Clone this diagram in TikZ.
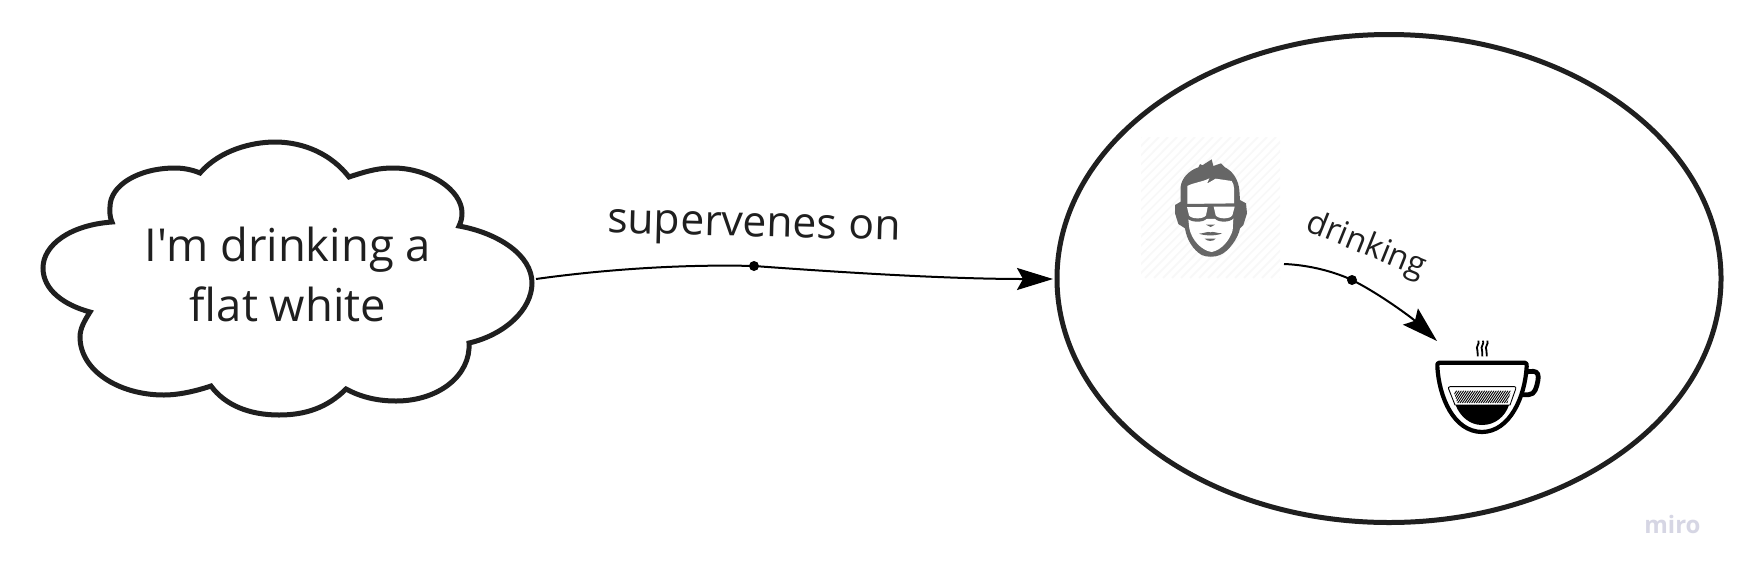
\documentclass[tikz,border=0pt]{standalone}
\usepackage{fontspec}
\setmainfont{Open Sans}
\newfontfamily\plainsans{Open Sans}
\usetikzlibrary{arrows.meta,shapes.geometric}
\definecolor{ink}{HTML}{1F1F1F}
\definecolor{facegray}{HTML}{666666}
\definecolor{hatchgray}{HTML}{F8F8F8}
\definecolor{miroc}{HTML}{D6D6E4}
\tikzset{
  outline/.style={draw=ink,line width=2.5pt},
  link/.style={draw=black,line width=1pt,-{Stealth[length=18pt,width=11pt,inset=3pt]}},
  linkplain/.style={draw=black,line width=1pt},
  dotn/.style={circle,fill=black,inner sep=0pt,minimum size=5pt},
  lab/.style={text=ink,inner sep=0pt},
  facefill/.style={fill=facegray,draw=none},
  facewhite/.style={fill=white,draw=none},
  lens/.style={fill=white,draw=none},
  cupline/.style={draw=black,line width=2pt,line join=round},
}
\begin{document}
\begin{tikzpicture}[x=0.5pt,y=-0.5pt]
\useasboundingbox (0,0) rectangle (1739,574);
\fill[white] (0,0) rectangle (1739,574);

% cloud
\draw[outline,miter limit=20] (200,173) .. controls (220,150) and (252,142) .. (275,142)
 .. controls (305,142) and (332,155) .. (349,177)
 .. controls (370,170) and (380,168) .. (393,168)
 .. controls (429,168) and (462,190) .. (462,213)
 .. controls (462,218) and (461,222) .. (459,226)
 .. controls (498,233) and (532,255) .. (532,283)
 .. controls (532,310) and (504,335) .. (469,343)
 .. controls (471,375) and (439,401) .. (396,401)
 .. controls (375,401) and (359,396) .. (346,389)
 .. controls (327,408) and (305,415) .. (279,415)
 .. controls (249,415) and (225,405) .. (211,386)
 .. controls (193,392) and (177,395) .. (164,395)
 .. controls (118,395) and (80,370) .. (80,337)
 .. controls (80,328) and (85,320) .. (90,312)
 .. controls (64,305) and (43,290) .. (43,268)
 .. controls (43,245) and (70,225) .. (112,222)
 .. controls (109,215) and (110,210) .. (110,207)
 .. controls (110,185) and (139,168) .. (175,168)
 .. controls (184,168) and (193,170) .. (200,173) -- cycle;
\node[lab,align=center,font=\plainsans\fontsize{22.7pt}{30pt}\selectfont] (thought) at (288,274) {I'm drinking a\\flat white};

% ellipse
\node[ellipse,outline,minimum width=664*0.5pt,minimum height=488*0.5pt,inner sep=0pt] (world) at (1389,278.5) {};

% face tile
\begin{scope}
\clip (1141,137) rectangle (1280,278);
\foreach \k in {0,9,...,300}{
  \draw[hatchgray,line width=0.8pt] (1141+\k-140,278) -- (1141+\k,137);
}
\end{scope}
\begin{scope}[shift={(1150,150)},scale=1/3]
 \path[facefill] (92,110) .. controls (95,85) and (115,62) .. (145,52) -- (150,42) -- (157,46) -- (185,28) -- (190,48) -- (213,40) -- (225,52)
   .. controls (250,65) and (265,90) .. (268,120) -- (270,150) -- (288,160) -- (291,190) -- (280,225) -- (270,235)
   .. controls (265,265) and (235,305) .. (210,315) .. controls (195,322) and (170,322) .. (155,315)
   .. controls (130,300) and (110,270) .. (105,235) -- (85,222) -- (75,190) -- (75,165) -- (92,155) -- cycle;
 \path[facewhite] (112,108) .. controls (130,98) and (160,95) .. (178,85) -- (171,101) -- (197,86) -- (245,93) .. controls (250,100) and (252,108) .. (252,115) -- (252,165) -- (112,165) -- cycle;
 \path[facewhite] (115,208) -- (250,205) -- (248,240)
   .. controls (240,270) and (215,300) .. (185,306)
   .. controls (155,302) and (125,270) .. (118,235) -- cycle;
 % glasses
 \path[facefill] (97,162) -- (268,160) -- (262,176) -- (258,178) -- (250,205) .. controls (240,218) and (205,218) .. (195,206) -- (188,186) -- (176,186) -- (170,206) .. controls (160,218) and (125,218) .. (113,206) -- (106,178) -- (100,176) -- cycle;
 \path[lens] (111,171) -- (173,171) -- (168,196) .. controls (160,208) and (125,208) .. (117,196) -- cycle;
 \path[lens] (191,170) -- (254,170) -- (247,196) .. controls (240,208) and (205,208) .. (197,196) -- cycle;
 % nose, mouth
 \path[facefill] (168,224) -- (195,224) -- (182,231) -- cycle;
 \path[facefill] (147,251) .. controls (165,250) and (172,243) .. (181,247) .. controls (190,243) and (200,250) .. (216,250) .. controls (200,258) and (165,258) .. (147,251) -- cycle;
 \path[facefill] (164,266) -- (197,266) .. controls (190,275) and (172,275) .. (164,266) -- cycle;
\end{scope}

% cup
\begin{scope}[shift={(1420,330)},scale=1/3]
 % steam
 \foreach \sx in {172,186,199}{
  \draw[black,line width=0.9pt] (\sx+3,32) .. controls (\sx+8,42) and (\sx-6,50) .. (\sx,60) .. controls (\sx+4,66) and (\sx-2,72) .. (\sx+1,79);
 }
 % handle
 \draw[cupline,line width=2.4pt] (322,125) -- (340,124) .. controls (354,125) and (356,136) .. (354,150) .. controls (350,172) and (345,194) .. (326,194) -- (306,194);
 % bowl
 \draw[cupline,line width=2.1pt,fill=white] (58,98) -- (314,98) .. controls (320,98) and (321,103) .. (320,110)
    .. controls (315,200) and (270,305) .. (186,306)
    .. controls (100,305) and (57,200) .. (52,110) .. controls (51,103) and (52,98) .. (58,98) -- cycle;
 % coffee outline
 \draw[black,line width=0.45pt] (90,170) -- (283,170) .. controls (288,170) and (288,173) .. (287,177) -- (270,225) -- (105,225) -- (86,177) .. controls (85,173) and (85,170) .. (90,170) -- cycle;
 \begin{scope}
  \clip (100,182) -- (273,182) -- (262,219) -- (112,219) -- cycle;
  \foreach \k in {0,7,...,215}{
   \draw[black,line width=0.45pt] (85+\k,219) -- (85+\k+25,182);
  }
 \end{scope}
 % coffee
 \fill[black] (107,225) -- (267,225) .. controls (255,260) and (225,285) .. (186,285) .. controls (150,285) and (120,260) .. (107,225) -- cycle;
\end{scope}

% connector 1
\coordinate (startA) at (536,279);
\coordinate (endA) at (1053,279);
\node[dotn] (dotA) at (754,266) {};
\draw[linkplain] (startA) .. controls (600,270) and (680,264) .. (dotA.center);
\draw[link] (dotA.center) .. controls (850,273) and (950,279) .. (endA);
\node[lab,rotate=-1.5,font=\fontsize{21.35pt}{25pt}\selectfont] (labA) at (754,230) {supervenes on};

% connector 2
\coordinate (startB) at (1284,264);
\coordinate (endB) at (1437,341);
\node[dotn] (dotB) at (1352,280) {};
\draw[linkplain] (startB) .. controls (1310,265) and (1335,272) .. (dotB.center);
\draw[link] (dotB.center) .. controls (1380,294) and (1412,318) .. (endB);
\node[lab,rotate=-22,font=\fontsize{16.4pt}{20pt}\selectfont] (labB) at (1366,246) {drinking};

% watermark
\node[anchor=base west,inner sep=0pt,text=miroc,font=\fontsize{12pt}{16pt}\selectfont\bfseries] (mark) at (1644,533) {miro};
\end{tikzpicture}
\end{document}
